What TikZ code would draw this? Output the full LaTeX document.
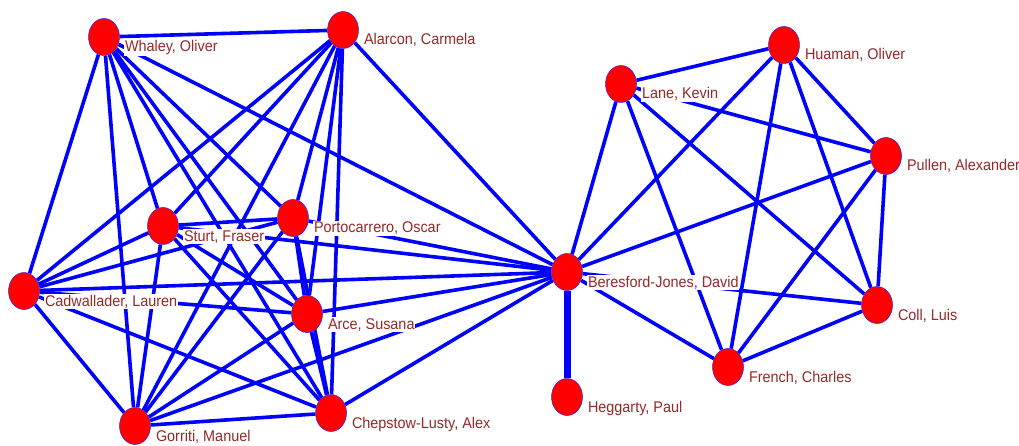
\documentclass[tikz,border=0pt]{standalone}
\usepackage{fontspec}
\setmainfont{Liberation Sans}[FakeStretch=0.93]
\usetikzlibrary{shapes.geometric}
\pgfdeclarelayer{paper}
\pgfdeclarelayer{edges}
\pgfsetlayers{paper,edges,main}
\definecolor{edgeblue}{RGB}{0,0,255}
\definecolor{nodered}{RGB}{255,0,0}
\definecolor{rimblue}{RGB}{70,30,210}
\definecolor{namered}{RGB}{150,40,40}
\begin{document}
\begin{tikzpicture}[x=1pt,y=-1pt,
  actor/.style={ellipse, fill=nodered, draw=rimblue, line width=0.5pt,
    minimum width=31pt, minimum height=37pt, inner sep=0pt},
  namelbl/.style={anchor=base west, fill=white, inner sep=0.8pt, text=namered,
    font=\fontsize{15.5}{18}\selectfont},
  tie/.style={draw=edgeblue, line width=3.6pt},
  strongtie/.style={draw=edgeblue, line width=7pt}]
\begin{pgfonlayer}{paper}
\fill[white] (0,0) rectangle (1019,446);
\end{pgfonlayer}
\useasboundingbox (0,0) rectangle (1019,446);

% actors
\node[actor] (w)   at (104,37)  {};
\node[actor] (a)   at (343,30)  {};
\node[actor] (s)   at (163,226) {};
\node[actor] (p)   at (293,218) {};
\node[actor] (c)   at (24,291)  {};
\node[actor] (ar)  at (307,314) {};
\node[actor] (g)   at (135,426) {};
\node[actor] (cl)  at (331,413) {};
\node[actor] (bj)  at (567,272) {};
\node[actor] (heg) at (567,397) {};
\node[actor] (l)   at (621,84)  {};
\node[actor] (h)   at (784,45)  {};
\node[actor] (pu)  at (886,156) {};
\node[actor] (co)  at (877,305) {};
\node[actor] (f)   at (728,367) {};

% ties
\begin{pgfonlayer}{edges}
\foreach \u/\v in {w/a,w/s,w/p,w/c,w/ar,w/g,w/cl,w/bj,
                   a/s,a/p,a/c,a/ar,a/g,a/cl,a/bj,
                   s/p,s/c,s/ar,s/g,s/cl,s/bj,
                   p/c,p/ar,p/g,p/cl,p/bj,
                   c/ar,c/g,c/cl,c/bj,
                   ar/g,ar/cl,ar/bj,
                   g/cl,g/bj,
                   cl/bj,
                   bj/l,bj/h,bj/pu,bj/co,bj/f,
                   l/h,l/pu,l/co,l/f,
                   h/pu,h/co,h/f,
                   pu/co,pu/f,
                   co/f}
  \draw[tie] (\u) -- (\v);
\draw[strongtie] (bj) -- (heg);
\end{pgfonlayer}

% names
\node[namelbl] (wn)   at ([shift={(20,15)}]w.center)   {Whaley, Oliver};
\node[namelbl] (an)   at ([shift={(20,15)}]a.center)   {Alarcon, Carmela};
\node[namelbl] (sn)   at ([shift={(20,15)}]s.center)   {Sturt, Fraser};
\node[namelbl] (pn)   at ([shift={(20,15)}]p.center)   {Portocarrero, Oscar};
\node[namelbl] (cn)   at ([shift={(20,15)}]c.center)   {Cadwallader, Lauren};
\node[namelbl] (arn)  at ([shift={(20,15)}]ar.center)  {Arce, Susana};
\node[namelbl] (gn)   at ([shift={(20,15)}]g.center)   {Gorriti, Manuel};
\node[namelbl] (cln)  at ([shift={(20,15)}]cl.center)  {Chepstow-Lusty, Alex};
\node[namelbl] (bjn)  at ([shift={(20,15)}]bj.center)  {Beresford-Jones, David};
\node[namelbl] (hegn) at ([shift={(20,15)}]heg.center) {Heggarty, Paul};
\node[namelbl] (ln)   at ([shift={(20,15)}]l.center)   {Lane, Kevin};
\node[namelbl] (hn)   at ([shift={(20,15)}]h.center)   {Huaman, Oliver};
\node[namelbl] (pun)  at ([shift={(20,15)}]pu.center)  {Pullen, Alexander};
\node[namelbl] (con)  at ([shift={(20,15)}]co.center)  {Coll, Luis};
\node[namelbl] (fn)   at ([shift={(20,15)}]f.center)   {French, Charles};
\end{tikzpicture}
\end{document}
